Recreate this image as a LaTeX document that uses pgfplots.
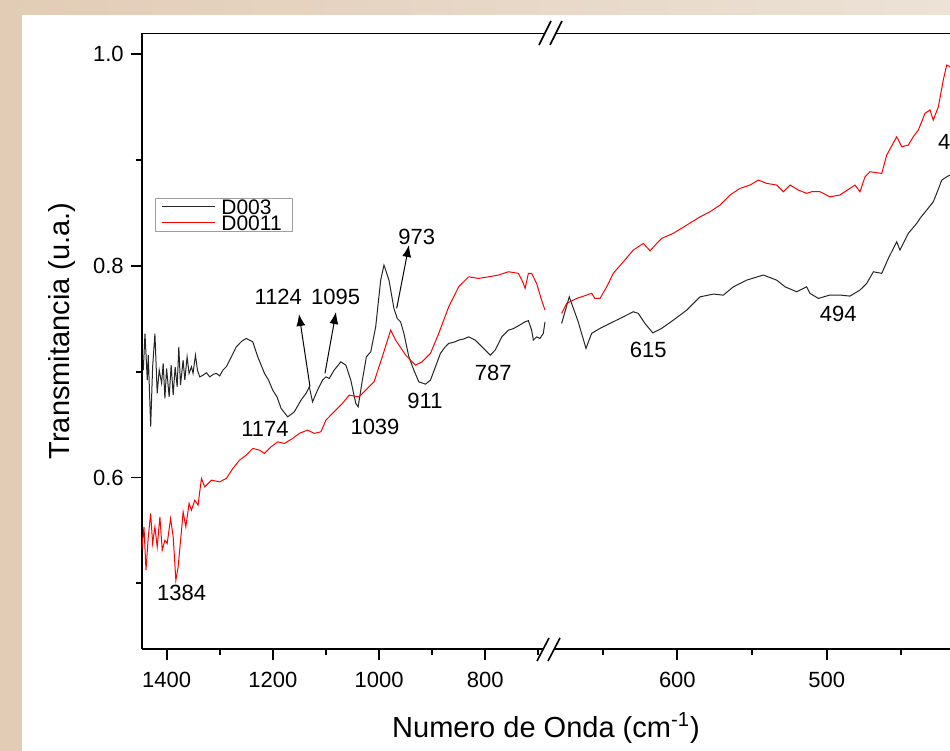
\documentclass[border=0pt]{standalone}
\usepackage{fontspec}
\setmainfont{Liberation Sans}
\usepackage{pgfplots}
\pgfplotsset{compat=1.18}
\usetikzlibrary{arrows.meta}
\definecolor{beigeA}{RGB}{226,204,182}
\definecolor{beigeB}{RGB}{236,226,214}

\pgfplotstableread{
x y
1443.9 0.7015
1440.7 0.736
1436.4 0.692
1434.5 0.7157
1430.0 0.648
1426.3 0.7046
1422.0 0.736
1417.7 0.6795
1413.9 0.7015
1409.4 0.6892
1406.4 0.7078
1403.2 0.6747
1400.0 0.7031
1395.2 0.6762
1391.4 0.7062
1387.6 0.6778
1383.9 0.7046
1380.1 0.6857
1377.0 0.7235
1373.8 0.6873
1368.9 0.7109
1365.7 0.692
1361.4 0.714
1357.7 0.6984
1353.2 0.7046
1350.2 0.6984
1345.7 0.7157
1341.9 0.7015
1337.6 0.6951
1331.4 0.6967
1325.0 0.6990
1318.8 0.6951
1312.0 0.6975
1306.3 0.6984
1300.0 0.6960
1293.9 0.7015
1287.0 0.7050
1281.3 0.7109
1268.8 0.7235
1258.0 0.7290
1250.0 0.7314
1237.7 0.7282
1228.3 0.714
1215.7 0.6984
1208.0 0.6920
1200.2 0.6826
1192.0 0.6760
1184.4 0.6653
1172.0 0.6573
1159.5 0.6621
1146.9 0.6731
1137.5 0.6795
1131.3 0.6857
1125.2 0.6715
1115.8 0.6826
1106.4 0.692
1100.0 0.6951
1093.8 0.6936
1084.5 0.7015
1071.9 0.7093
1062.5 0.7062
1053.2 0.692
1043.8 0.67
1039.4 0.6668
1031.4 0.692
1023.9 0.714
1015.6 0.7188
1006.3 0.7424
996.9 0.7865
990.7 0.8007
981.3 0.7865
972.0 0.7598
965.8 0.7503
959.4 0.7471
953.2 0.7362
943.8 0.714
934.5 0.7015
925.1 0.6904
912.5 0.6882
903.2 0.692
893.8 0.7046
884.4 0.7173
876.0 0.7230
868.8 0.7267
858.0 0.7280
850.1 0.7298
840.0 0.7310
831.3 0.7329
818.8 0.7298
803.2 0.722
790.6 0.7157
781.3 0.7204
768.9 0.7329
756.3 0.7393
748.0 0.7405
740.8 0.7424
732.0 0.7450
725.0 0.7471
718.8 0.7482
712.7 0.7393
709.4 0.7298
703.3 0.7329
696.9 0.7314
690.7 0.7362
687.5 0.7471
}\blackL

\pgfplotstableread{
x y
677.5 0.7456
672.4 0.7707
666.4 0.7471
661.2 0.722
657.4 0.7362
651.8 0.7409
645.1 0.7456
638.4 0.7503
629.5 0.7566
626.2 0.7551
621.7 0.7456
616.5 0.7367
610.5 0.7409
602.7 0.7487
593.7 0.7582
584.8 0.7707
575.9 0.7733
569.2 0.7723
562.5 0.7802
553.6 0.7865
542.4 0.7913
533.5 0.7865
527.9 0.7802
520.1 0.7755
513.4 0.7802
511.2 0.774
505.6 0.7692
497.8 0.7724
491.1 0.7724
484.4 0.7714
477.7 0.7771
473.2 0.7834
468.7 0.7944
463.1 0.7929
458.7 0.807
453.1 0.8227
450.9 0.8149
445.3 0.8307
439.7 0.8401
437.5 0.8448
433.0 0.8527
428.6 0.8605
426.3 0.8685
422.9 0.881
419.6 0.8841
417.4 0.8857
}\blackR

\pgfplotstableread{
x y
1446.9 0.5314
1442.6 0.5534
1438.8 0.5125
1434.5 0.5439
1430.0 0.5661
1426.3 0.5377
1422.0 0.5534
1417.7 0.5345
1412.6 0.5628
1408.3 0.5314
1403.2 0.5408
1398.9 0.5377
1392.5 0.5613
1387.6 0.5439
1382.6 0.503
1378.3 0.5156
1371.9 0.5503
1368.9 0.5676
1363.8 0.5534
1357.7 0.5755
1353.2 0.5692
1347.0 0.5786
1340.8 0.5739
1334.4 0.5991
1328.2 0.5912
1315.7 0.5975
1300.1 0.5959
1287.5 0.5991
1275.2 0.6086
1262.6 0.6164
1250.0 0.6212
1237.7 0.6275
1225.1 0.6259
1215.7 0.6228
1203.2 0.629
1190.8 0.6337
1178.2 0.6322
1162.7 0.6369
1150.1 0.6417
1134.5 0.6448
1122.0 0.6417
1109.4 0.6432
1100.0 0.6542
1087.7 0.6606
1068.9 0.67
1056.3 0.6778
1037.6 0.6762
1018.8 0.6857
1009.4 0.6904
993.9 0.714
978.1 0.7393
968.8 0.7298
950.0 0.7157
931.3 0.7062
918.9 0.7093
903.1 0.7173
887.6 0.7362
868.8 0.7613
850.1 0.7802
831.3 0.7896
812.6 0.7881
793.8 0.7896
775.1 0.7913
756.3 0.7944
737.6 0.7929
728.2 0.7834
725.0 0.7787
718.8 0.7929
712.7 0.7929
703.3 0.7834
693.9 0.7676
687.5 0.7582
}\redL

\pgfplotstableread{
x y
677.5 0.7551
674.1 0.7645
667.4 0.7692
660.7 0.7724
657.4 0.774
655.2 0.7692
651.8 0.7692
647.3 0.7802
642.9 0.7929
636.2 0.8038
629.5 0.8149
622.8 0.8212
618.3 0.8142
613.8 0.8212
610.5 0.8259
602.7 0.8307
593.7 0.8385
584.8 0.8463
578.1 0.8511
571.4 0.8574
564.7 0.8669
558.0 0.8732
551.3 0.8763
545.8 0.881
540.2 0.8779
533.5 0.8763
529.0 0.87
524.5 0.8763
519.0 0.8716
513.4 0.8685
510.0 0.87
504.5 0.87
497.8 0.8652
491.1 0.8669
484.4 0.8732
481.0 0.8763
477.7 0.87
474.3 0.8841
471.0 0.8889
463.1 0.8873
459.8 0.9046
453.1 0.9219
449.7 0.9125
445.3 0.9141
442.0 0.9219
438.6 0.9283
434.1 0.9441
430.8 0.9472
428.6 0.9377
425.2 0.9503
421.9 0.9755
419.6 0.9897
417.4 0.9881
}\redR

\pgfplotsset{
  ftir/.style={
    scale only axis,
    height=307.75pt,
    ymin=0.438, ymax=1.0195,
    x dir=reverse,
    axis lines*=left,
    x axis line style={-},
    y axis line style={-},
    axis line style={line width=0.9pt},
    tick align=outside,
    xtick pos=bottom,
    ytick pos=left,
    major tick length=5.5pt,
    minor tick length=3pt,
    every tick/.style={black, line width=0.9pt},
    tick label style={font=\fontsize{11}{13}\selectfont},
    xticklabel style={yshift=-2.5pt},
    /pgf/number format/assume math mode=true,
    /pgf/number format/set thousands separator={},
    anchor=south west,
  }
}

\begin{document}
\begin{tikzpicture}
\useasboundingbox (0,0) rectangle (475pt,375.5pt);
\clip (0,0) rectangle (475pt,375.5pt);
\shade[left color=beigeA, right color=beigeB] (0,0) rectangle (475pt,375.5pt);
\fill[white] (11pt,0) rectangle (475pt,368pt);

\begin{axis}[ftir,
  at={(70.85pt,51pt)},
  width=204.9pt,
  xmin=675.3, xmax=1446.9,
  xtick={800,1000,1200,1400},
  minor xtick={700,900,1100,1300},
  ytick={0.6,0.8,1.0},
  minor ytick={0.5,0.7,0.9},
  yticklabel style={/pgf/number format/.cd, fixed, fixed zerofill, precision=1},
]
\addplot[draw=black!85, line width=0.5pt] table[x=x,y=y] {\blackL};
\addplot[draw=red, line width=0.5pt] table[x=x,y=y] {\redL};
\end{axis}

\begin{axis}[ftir,
  at={(275.75pt,51pt)},
  width=199.25pt,
  xmin=417.4, xmax=684.3,
  xtick={400,500,600},
  minor xtick={450,550,650},
  hide y axis,
]
\addplot[draw=black!85, line width=0.5pt] table[x=x,y=y] {\blackR};
\addplot[draw=red, line width=0.5pt] table[x=x,y=y] {\redR};
\end{axis}

\begin{scope}[x=0.5pt, y=-0.5pt, yshift=375.5pt]
  % top frame line
  \draw[line width=0.9pt] (141.7,33.5) -- (952,33.5);
  % axis breaks
  \fill[white] (544,28) rectangle (555,39);
  \fill[white] (543,644) rectangle (554,655);
  \draw[line width=0.8pt] (539,45) -- (551,21);
  \draw[line width=0.8pt] (550,45) -- (562,21);
  \draw[line width=0.8pt] (537,661) -- (549,638);
  \draw[line width=0.8pt] (548,661) -- (560,638);
  % legend
  \draw[gray!75, line width=0.5pt] (155,199) rectangle (292,232);
  \draw[black!85, line width=0.5pt] (162,207) -- (215,207);
  \draw[red, line width=0.5pt] (162,223) -- (215,223);
  \node[anchor=west, inner sep=0pt, font=\fontsize{10.5}{12}\selectfont] at (221,207) {D003};
  \node[anchor=west, inner sep=0pt, font=\fontsize{10.5}{12}\selectfont] at (221,223) {D0011};
  % axis titles
  \node[font=\fontsize{14.5}{17}\selectfont] at (546,728) {Numero de Onda (cm\textsuperscript{-1})};
  \node[font=\fontsize{14.5}{17}\selectfont, rotate=90] at (62,331) {Transmitancia (u.a.)};
  % annotations
  \begin{scope}[every node/.style={font=\fontsize{11}{13}\selectfont}]
    \node at (278.3,296.7) {1124};
    \node at (335.7,296.7) {1095};
    \node at (416.7,236.7) {973};
    \node at (265,429.3) {1174};
    \node at (375,426.7) {1039};
    \node at (425,400.7) {911};
    \node at (493.3,372.7) {787};
    \node at (648.3,350) {615};
    \node at (838.3,314) {494};
    \node[anchor=west] at (931,141.7) {416};
    \node at (181.7,593.3) {1384};
  \end{scope}
  \draw[line width=0.5pt, -{Latex[length=6pt,width=4.5pt]}] (310,386.7) -- (299,314);
  \draw[line width=0.5pt, -{Latex[length=6pt,width=4.5pt]}] (325,373.3) -- (336,312);
  \draw[line width=0.5pt, -{Latex[length=6pt,width=4.5pt]}] (396.7,308.3) -- (409,245);
\end{scope}
\end{tikzpicture}
\end{document}
